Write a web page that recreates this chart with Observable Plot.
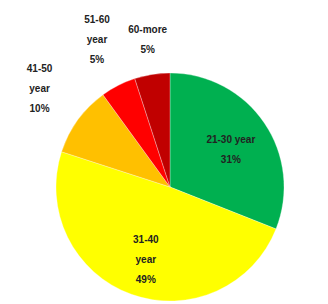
<!DOCTYPE html>
<html><head><meta charset="utf-8">
<script src="https://cdn.jsdelivr.net/npm/d3@7"></script>
<script src="https://cdn.jsdelivr.net/npm/@observablehq/plot@0.6"></script>
<style>body{margin:0;background:#fff}</style>
</head><body><div id="chart"></div>
<script>
const categories = ["21-30 year", "31-40\nyear", "41-50\nyear", "51-60\nyear", "60-more"];
const values = [31, 49, 10, 5, 5];
const colors = ["#00b050", "#ffff00", "#ffc000", "#ff0000", "#c00000"];

const pie = d3.pie().sort(null).value(d => d.value)(categories.map((c, i) => ({name: c, value: values[i], color: colors[i]})));
const labels = pie.map(p => {
  const a = (p.startAngle + p.endAngle) / 2;
  const inside = p.data.value / d3.sum(values) > 0.2;
  const nLines = p.data.name.split("\n").length + 1;
  const r = inside ? 0.64 : (nLines > 2 ? 1.42 : 1.28);
  return {x: r * Math.sin(a), y: r * Math.cos(a), inside, text: p.data.name + "\n" + p.data.value + "%"};
});

const W = 328, H = 304, cx = 170, cy = 187, R = 114;
const textStyle = {x: "x", y: "y", text: "text", fontSize: 10, fontWeight: "bold", lineHeight: 2.0, fill: "#222", fontFamily: "Liberation Sans, Arial, sans-serif"};
const chart = Plot.plot({
  width: W, height: H, margin: 0,
  x: {domain: [-cx / R, (W - cx) / R], axis: null},
  y: {domain: [-(H - cy) / R, cy / R], axis: null},
  marks: [
    (index, scales) => {
      const g = d3.create("svg:g");
      const x0 = scales.x(0), y0 = scales.y(0), rr = scales.x(1) - scales.x(0);
      const arc = d3.arc().innerRadius(0).outerRadius(rr);
      g.selectAll("path").data(pie).join("path")
        .attr("transform", `translate(${x0},${y0})`)
        .attr("d", arc)
        .attr("fill", d => d.data.color)
        .attr("stroke", "#fff").attr("stroke-width", 0.3);
      return g.node();
    },
    Plot.text(labels.filter(d => d.inside), textStyle),
    Plot.text(labels.filter(d => !d.inside), {...textStyle, dy: -7})
  ]
});
document.getElementById("chart").append(chart);
</script>
</body></html>
